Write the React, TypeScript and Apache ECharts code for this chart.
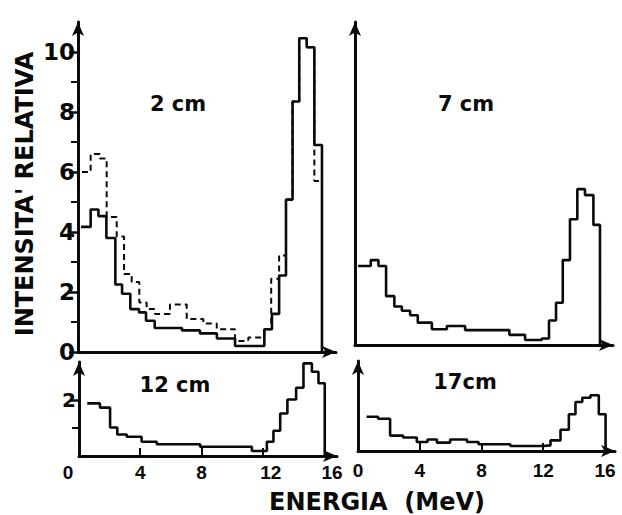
import React, { useEffect, useRef } from "react";
import * as echarts from "echarts";

// ---- data (energy bin edges in MeV, relative intensity per bin) ----
const E_2CM_SOLID = [0.2, 0.83, 1.34, 1.86, 2.45, 2.89, 3.43, 4.0, 4.46, 5.03, 6.82, 8.0, 9.11, 10.3, 12.22, 12.72, 13.19, 13.64, 14.07, 14.51, 15.0, 15.5, 16.0];
const V_2CM_SOLID = [4.17, 4.75, 4.53, 3.8, 2.25, 1.94, 1.43, 1.32, 1.04, 0.8, 0.72, 0.62, 0.45, 0.2, 0.76, 1.27, 2.55, 5.08, 8.35, 10.46, 10.16, 6.9];

const E_2CM_DASHED = [0.26, 0.83, 1.44, 1.88, 2.54, 3.02, 3.52, 4.02, 4.5, 5.05, 6.03, 7.13, 8.22, 9.1, 10.3, 11.17, 12.22, 12.67, 13.19, 13.64, 14.07, 14.51, 15.0, 15.5, 16.0];
const V_2CM_DASHED = [6.0, 6.6, 6.45, 4.5, 3.85, 2.6, 2.33, 1.65, 1.43, 1.27, 1.58, 1.1, 0.95, 0.76, 0.37, 0.48, 0.76, 2.44, 3.22, 5.08, 8.35, 10.46, 10.16, 5.7];

const E_7CM = [0.2, 1.03, 1.53, 2.03, 2.57, 3.06, 3.6, 4.1, 5.02, 6.0, 7.19, 10.08, 11.11, 12.2, 12.67, 13.13, 13.57, 14.04, 14.52, 15.02, 15.57, 16.0];
const V_7CM = [2.65, 2.85, 2.65, 1.64, 1.29, 1.15, 1.0, 0.75, 0.53, 0.64, 0.5, 0.34, 0.17, 0.22, 0.82, 1.42, 2.85, 4.22, 5.23, 5.03, 4.03];

const E_12CM = [0.54, 1.37, 2.03, 2.5, 3.12, 4.09, 5.08, 7.91, 11.29, 12.27, 12.7, 13.14, 13.61, 14.18, 14.66, 15.21, 15.64, 16.05];
const V_12CM = [1.88, 1.73, 1.02, 0.77, 0.69, 0.51, 0.42, 0.33, 0.18, 0.51, 0.9, 1.52, 2.02, 2.44, 3.31, 3.01, 2.6];

const E_17CM = [0.56, 1.3, 2.08, 2.92, 3.81, 4.5, 5.11, 5.97, 7.06, 7.81, 9.87, 12.03, 12.47, 13.12, 13.66, 14.09, 14.53, 15.06, 15.6, 16.04];
const V_17CM = [1.22, 1.15, 0.55, 0.48, 0.32, 0.41, 0.3, 0.41, 0.32, 0.24, 0.18, 0.2, 0.38, 0.76, 1.31, 1.75, 1.9, 1.99, 1.31];

const Y_LABELS_TOP = [0, 2, 4, 6, 8, 10];
const Y_MINOR_TOP = [1, 3, 5, 7, 9];
const Y_LABELS_BOTTOM = [2];
const Y_MINOR_BOTTOM = [1];
const X_LABELS = [0, 4, 8, 12, 16];
const X_TICKS_BOTTOM = [4, 8, 12];

const PANEL_TITLES = ["2 cm", "7 cm", "12 cm", "17cm"];
const Y_TITLE = "INTENSITA' RELATIVA";
const X_TITLE = "ENERGIA  (MeV)";

const FONT = '"DejaVu Sans", "Liberation Sans", sans-serif';
const INK = "#0a0a0a";

function stepPoints(edges: number[], vals: number[]) {
  const pts: number[][] = [];
  for (let i = 0; i < vals.length; i++) pts.push([edges[i], vals[i]]);
  pts.push([edges[vals.length], 0]);
  return pts;
}

const axisLine = {
  show: true,
  onZero: false,
  symbol: ["none", "arrow"],
  symbolSize: [9, 14],
  lineStyle: { color: INK, width: 3 },
};

function xAxis(gridIndex: number, max: number, withLabels: boolean, labelMargin: number, shiftLabels: boolean) {
  const base: any = {
    gridIndex,
    type: "value",
    min: 0,
    max,
    axisLine,
    splitLine: { show: false },
    axisTick: { show: false },
    axisLabel: { show: false },
  };
  if (withLabels) {
    base.axisTick = {
      show: true,
      inside: true,
      length: 8,
      customValues: X_TICKS_BOTTOM,
      lineStyle: { color: INK, width: 2 },
    };
    const txt = { fontSize: 19, fontFamily: '"Liberation Sans", Arial, sans-serif', fontWeight: "bold", color: INK };
    base.axisLabel = {
      show: true,
      customValues: X_LABELS,
      margin: labelMargin,
      ...txt,
      formatter: (v: number) => {
        if (!shiftLabels) return String(v);
        if (v === 0) return "{l|0}";
        if (v >= 12) return "{r|" + v + "}";
        return String(v);
      },
      rich: {
        l: { ...txt, padding: [0, 22, 0, 0] },
        r: { ...txt, padding: [0, 0, 0, 16] },
      },
    };
  }
  return base;
}

function yAxis(gridIndex: number, max: number, labels: number[] | null, fontSize: number) {
  const base: any = {
    gridIndex,
    type: "value",
    min: 0,
    max,
    axisLine,
    splitLine: { show: false },
    axisTick: { show: false },
    axisLabel: { show: false },
  };
  if (labels) {
    base.axisTick = {
      show: true,
      inside: false,
      length: 9,
      customValues: labels,
      lineStyle: { color: INK, width: 2.5 },
    };
    base.axisLabel = {
      show: true,
      customValues: labels,
      margin: 3,
      fontSize,
      fontFamily: FONT,
      fontWeight: "bold",
      color: INK,
    };
  }
  return base;
}

function minorYAxis(gridIndex: number, max: number, ticks: number[]) {
  return {
    gridIndex,
    type: "value",
    min: 0,
    max,
    axisLine: { show: false },
    splitLine: { show: false },
    axisLabel: { show: false },
    axisTick: {
      show: true,
      inside: true,
      length: 7,
      customValues: ticks,
      lineStyle: { color: INK, width: 2 },
    },
  };
}

function histSeries(xi: number, yi: number, data: number[][], dashed: boolean) {
  return {
    type: "line",
    xAxisIndex: xi,
    yAxisIndex: yi,
    step: "end",
    data,
    showSymbol: false,
    symbol: "none",
    clip: false,
    silent: true,
    lineStyle: { color: INK, width: dashed ? 2 : 2.6, type: dashed ? [6, 4] : "solid" },
  };
}

function titleText(text: string, x: number, y: number) {
  return {
    type: "text",
    x,
    y,
    style: {
      text,
      fontSize: 21,
      fontFamily: FONT,
      fontWeight: "bold",
      fill: INK,
      textAlign: "center",
      textVerticalAlign: "middle",
    },
  };
}

export default function App() {
  const ref = useRef<HTMLDivElement>(null);
  useEffect(() => {
    const chart = echarts.init(ref.current!, null, { renderer: "svg" });
    const option: any = {
      animation: false,
      backgroundColor: "#ffffff",
      grid: [
        { left: 78, top: 22, width: 258, height: 330 },
        { left: 355, top: 22, width: 258, height: 323 },
        { left: 79, top: 362, width: 258, height: 94 },
        { left: 358, top: 361, width: 257, height: 90 },
      ],
      xAxis: [
        xAxis(0, 16.92, false, 0, false),
        xAxis(1, 16.85, false, 0, false),
        xAxis(2, 16.85, true, 7, true),
        xAxis(3, 16.65, true, 10, false),
      ],
      yAxis: [
        yAxis(0, 11.0, Y_LABELS_TOP, 23),
        yAxis(1, 10.84, null, 23),
        yAxis(2, 3.36, Y_LABELS_BOTTOM, 20),
        yAxis(3, 3.21, null, 20),
        minorYAxis(0, 11.0, Y_MINOR_TOP),
        minorYAxis(2, 3.36, Y_MINOR_BOTTOM),
      ],
      series: [
        histSeries(0, 0, stepPoints(E_2CM_DASHED, V_2CM_DASHED), true),
        histSeries(0, 0, stepPoints(E_2CM_SOLID, V_2CM_SOLID), false),
        histSeries(1, 1, stepPoints(E_7CM, V_7CM), false),
        histSeries(2, 2, stepPoints(E_12CM, V_12CM), false),
        histSeries(3, 3, stepPoints(E_17CM, V_17CM), false),
      ],
      graphic: [
        titleText(PANEL_TITLES[0], 178, 104),
        titleText(PANEL_TITLES[1], 466, 104),
        titleText(PANEL_TITLES[2], 175, 385),
        titleText(PANEL_TITLES[3], 465, 382),
        {
          type: "text",
          x: 25,
          y: 194,
          rotation: Math.PI / 2,
          style: {
            text: Y_TITLE,
            fontSize: 24,
            fontFamily: FONT,
            fontWeight: "bold",
            fill: INK,
            textAlign: "center",
            textVerticalAlign: "middle",
          },
        },
        {
          type: "text",
          x: 377,
          y: 502,
          style: {
            text: X_TITLE,
            fontSize: 24,
            fontFamily: FONT,
            fontWeight: "bold",
            fill: INK,
            textAlign: "center",
            textVerticalAlign: "middle",
          },
        },
      ],
    };
    chart.setOption(option);
    return () => chart.dispose();
  }, []);
  return <div ref={ref} style={{ position: "absolute", left: 0, top: 0, width: 622, height: 515 }} />;
}
